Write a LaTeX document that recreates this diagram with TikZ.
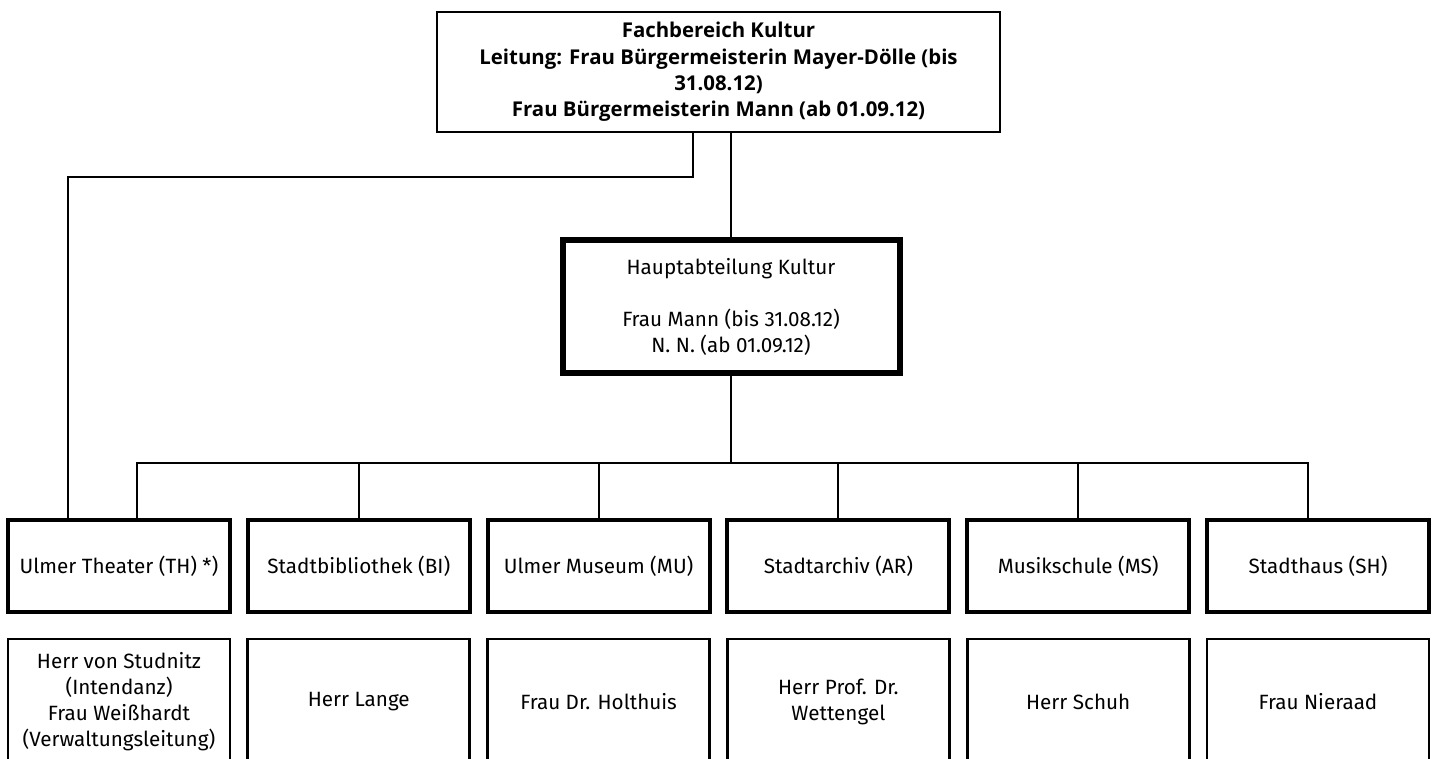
\documentclass[tikz,border=0pt]{standalone}
\usepackage{fontspec}
\setmainfont{Fira Sans}
\newfontfamily\headfont{Open Sans}

\tikzset{every picture/.style={line width=0.75pt}}
\tikzset{
  txt/.style={font=\fontsize{15.5}{19.5}\selectfont, align=center, inner sep=0pt},
  headbox/.style={txt, draw, line width=1.5pt, minimum width=422.25pt, minimum height=90pt, font=\headfont\fontsize{15.3}{19.8}\selectfont\bfseries},
  mainbox/.style={txt, draw, line width=4.5pt, minimum width=252.75pt, minimum height=99.75pt},
  unitbox/.style={txt, draw, line width=3pt, minimum width=166.5pt, minimum height=69pt},
  namebox/.style={txt, draw, line width=2pt, minimum width=166.5pt, minimum height=94.5pt},
  link/.style={line width=1.5pt},
}

\begin{document}
\begin{tikzpicture}[x=0.75pt,y=0.75pt,yscale=-1,xscale=1]
  \useasboundingbox (0,0) rectangle (1434,758);

  % Fachbereich
  \node [headbox] (fb) at (718.5,72) {Fachbereich Kultur\\Leitung: Frau Bürgermeisterin Mayer-Dölle (bis\\31.08.12)\\Frau Bürgermeisterin Mann (ab 01.09.12)};
  % Hauptabteilung
  \node [mainbox] (ha) at (731,306.5) {Hauptabteilung Kultur\\[19.5pt]Frau Mann (bis 31.08.12)\\N. N. (ab 01.09.12)};

  % Abteilungen and Leitungen
  \foreach \n/\t/\p [count=\i from 0] in {
      th/Ulmer Theater (TH) *)/{Herr von Studnitz\\(Intendanz)\\Frau Weißhardt\\(Verwaltungsleitung)},
      bi/Stadtbibliothek (BI)/Herr Lange,
      mu/Ulmer Museum (MU)/Frau Dr. Holthuis,
      ar/Stadtarchiv (AR)/{Herr Prof. Dr.\\Wettengel},
      ms/Musikschule (MS)/Herr Schuh,
      sh/Stadthaus (SH)/Frau Nieraad}{
    \node [unitbox] (\n) at ({119+239.8*\i},566) {\t};
    \node [namebox] (\n-p) at ({119+239.8*\i},702) {\p};
  }

  % Connectors
  \coordinate (bar) at (731,463);
  \draw [link] (ha.north) -- (ha.north |- fb.south);
  \draw [link] (ha.south) -- (bar);
  \draw [link] ([xshift=13.5pt]th.north) |- (bar) -| ([xshift=-7.5pt]sh.north);
  \foreach \n in {bi,mu,ar,ms}
    \draw [link] (\n.north) -- (\n.north |- bar);
  \draw [link] ([xshift=-19pt]fb.south) -- ++(0,44) -| ([xshift=-38.25pt]th.north);
\end{tikzpicture}
\end{document}
